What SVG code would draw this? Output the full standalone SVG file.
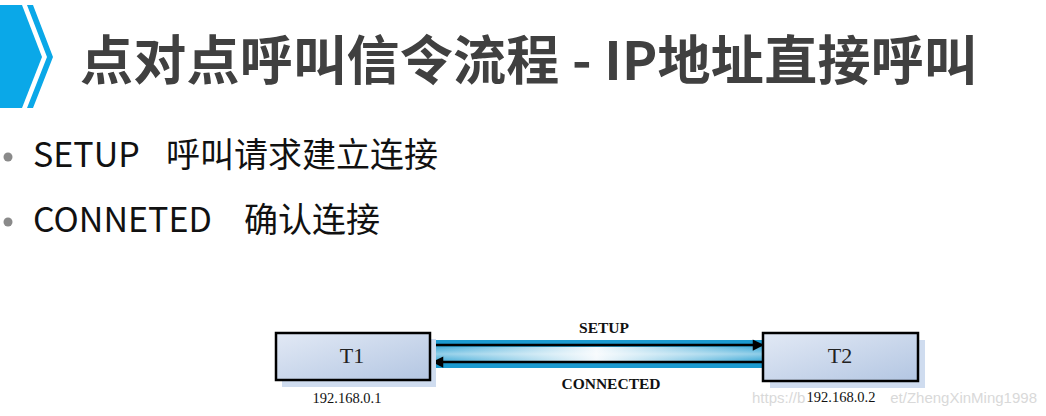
<svg xmlns="http://www.w3.org/2000/svg" width="1046" height="416" viewBox="0 0 1046 416">
<defs>
<style>
.title{font-family:"Noto Sans CJK SC","Noto Sans",sans-serif;font-weight:bold;font-size:53px;fill:#404040}
.bullet{font-family:"Noto Sans CJK SC","Noto Sans",sans-serif;font-size:34px;fill:#111}
.dot{fill:#8a8a8a}
.box{stroke:#000;stroke-width:2.5;fill:url(#boxg)}
.shadow{fill:#cfdcef}
.name{font-family:"Liberation Serif","Times New Roman",serif;font-size:22px;fill:#222;text-anchor:middle}
.ip{font-family:"Liberation Serif","Times New Roman",serif;font-size:14.5px;fill:#111;text-anchor:middle}
.lbl{font-family:"Liberation Serif","Times New Roman",serif;font-size:15.5px;font-weight:bold;fill:#111;text-anchor:middle}
.wm{font-family:"Liberation Sans",Arial,sans-serif;font-size:15px;fill:#d9d9d9}
.arr{stroke:#000;stroke-width:2.5;fill:none}
</style>
<linearGradient id="boxg" x1="0" y1="0" x2="1" y2="1">
<stop offset="0" stop-color="#e2e9f5"/>
<stop offset="1" stop-color="#b3c6e2"/>
</linearGradient>
<linearGradient id="bandh" x1="0" y1="0" x2="1" y2="0">
<stop offset="0" stop-color="#1b9ad0"/>
<stop offset="0.5" stop-color="#f2f8fc"/>
<stop offset="1" stop-color="#1b9ad0"/>
</linearGradient>
<linearGradient id="bandv" x1="0" y1="0" x2="0" y2="1">
<stop offset="0" stop-color="#ffffff" stop-opacity="0"/>
<stop offset="0.5" stop-color="#ffffff" stop-opacity="0.5"/>
<stop offset="1" stop-color="#ffffff" stop-opacity="0"/>
</linearGradient>
<marker id="ah" viewBox="0 0 10 10" refX="10" refY="5" markerWidth="6" markerHeight="4.5" markerUnits="strokeWidth" orient="auto">
<path d="M0,0 L10,5 L0,10 Z" fill="#000"/>
</marker>
</defs>
<rect width="1046" height="416" fill="#fff"/>

<g id="chevron">
<polygon points="0,5 22,5 42,57 22,108 0,108" fill="#0aa8e8"/>
<polygon points="27,5 33,5 53,57 33,108 27,108 47,57" fill="#0aa8e8"/>
</g>

<g id="title">
<text class="title" x="80" y="80" textLength="897" lengthAdjust="spacing">点对点呼叫信令流程 - IP地址直接呼叫</text>
</g>

<g id="bullets">
<circle class="dot" cx="8" cy="157" r="4.5"/>
<text class="bullet" x="33" y="167">SETUP</text>
<text class="bullet" x="166" y="167">呼叫请求建立连接</text>
<circle class="dot" cx="8" cy="222" r="4.5"/>
<text class="bullet" x="33" y="232">CONNETED</text>
<text class="bullet" x="244" y="232">确认连接</text>
</g>

<g id="connectors">
<rect x="428" y="340" width="337" height="28" fill="#1b9ad0"/>
<rect x="428" y="347" width="337" height="14" fill="url(#bandh)"/>
<rect x="428" y="344" width="337" height="20" fill="url(#bandv)"/>
<line class="arr" x1="432" y1="345" x2="764" y2="345" marker-end="url(#ah)"/>
<line class="arr" x1="763" y1="362" x2="432" y2="362" marker-end="url(#ah)"/>
<text class="lbl" x="604" y="333">SETUP</text>
<text class="lbl" x="611" y="389">CONNECTED</text>
</g>

<g id="T1">
<rect class="shadow" x="282" y="339" width="154" height="48"/>
<rect class="box" x="276" y="333" width="154" height="47"/>
<text class="name" x="352" y="363">T1</text>
<text class="ip" x="347" y="403">192.168.0.1</text>
</g>

<g id="watermark">
<text class="wm" x="752" y="403">https://b</text>
<text class="wm" x="1037" y="403" text-anchor="end">et/ZhengXinMing1998</text>
</g>

<g id="T2">
<rect class="shadow" x="770" y="340" width="155" height="48"/>
<rect class="box" x="763" y="333" width="155" height="48"/>
<text class="name" x="840" y="363">T2</text>
<text class="ip" x="841" y="402">192.168.0.2</text>
</g>
</svg>
